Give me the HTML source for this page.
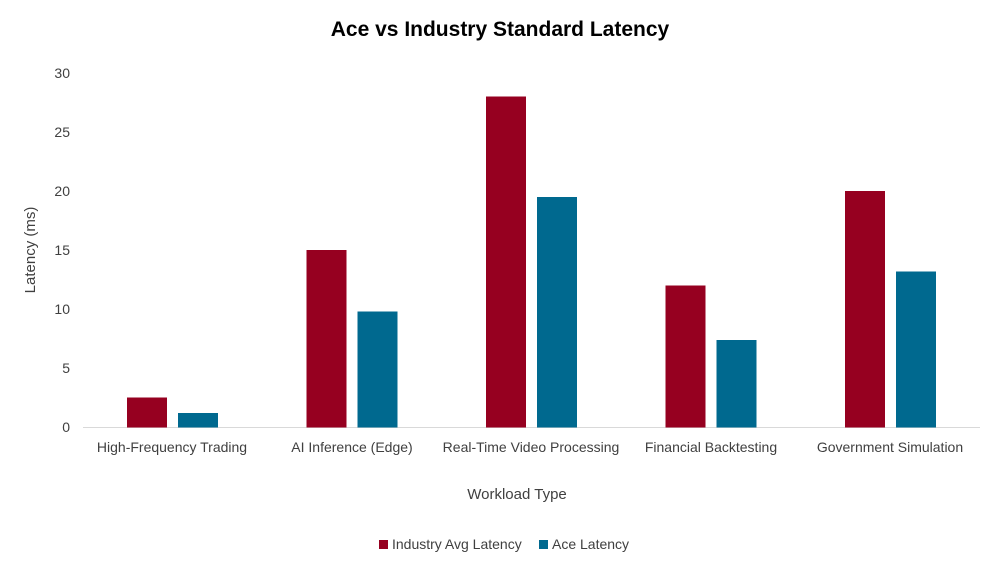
<!DOCTYPE html>
<html><head><style>
body{margin:0;background:#fff;}
svg text{font-family:"Liberation Sans",sans-serif;fill:#404040;}
</style></head><body>
<svg width="1000" height="570" xmlns="http://www.w3.org/2000/svg">
<rect width="1000" height="570" fill="#fff"/>
<text x="500" y="36" text-anchor="middle" font-size="21" font-weight="bold" style="fill:#000">Ace vs Industry Standard Latency</text>
<g font-size="14" text-anchor="end">
<text x="70" y="432">0</text><text x="70" y="373">5</text><text x="70" y="314">10</text>
<text x="70" y="255">15</text><text x="70" y="196">20</text><text x="70" y="137">25</text><text x="70" y="78">30</text>
</g>
<text transform="translate(35,250) rotate(-90)" text-anchor="middle" font-size="15">Latency (ms)</text>
<line x1="83" y1="427.5" x2="980" y2="427.5" stroke="#d9d9d9" stroke-width="1"/>
<g fill="#960020">
<rect x="127" y="397.5" width="40" height="30"/>
<rect x="306.5" y="250" width="40" height="177.5"/>
<rect x="486" y="96.5" width="40" height="331"/>
<rect x="665.5" y="285.5" width="40" height="142"/>
<rect x="845" y="191" width="40" height="236.5"/>
</g>
<g fill="#00698f">
<rect x="178" y="413" width="40" height="14.5"/>
<rect x="357.5" y="311.5" width="40" height="116"/>
<rect x="537" y="197" width="40" height="230.5"/>
<rect x="716.5" y="340" width="40" height="87.5"/>
<rect x="896" y="271.5" width="40" height="156"/>
</g>
<g font-size="14" text-anchor="middle">
<text x="172" y="452">High-Frequency Trading</text>
<text x="352" y="452">AI Inference (Edge)</text>
<text x="531" y="452">Real-Time Video Processing</text>
<text x="711" y="452">Financial Backtesting</text>
<text x="890" y="452">Government Simulation</text>
</g>
<text x="517" y="499" text-anchor="middle" font-size="15">Workload Type</text>
<rect x="379" y="540" width="9" height="9" fill="#960020"/>
<text x="392" y="549" font-size="14">Industry Avg Latency</text>
<rect x="539" y="540" width="9" height="9" fill="#00698f"/>
<text x="552" y="549" font-size="14">Ace Latency</text>
</svg>
</body></html>
